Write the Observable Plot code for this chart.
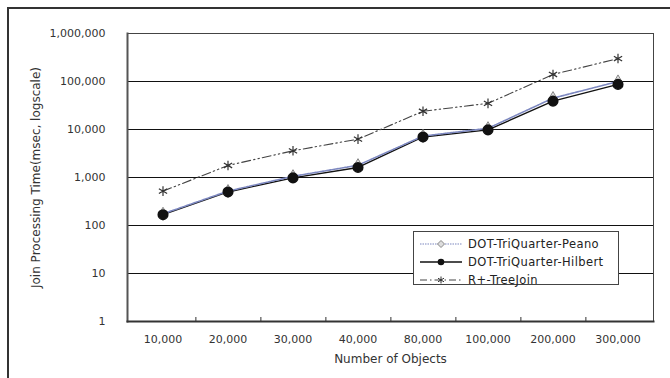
<!DOCTYPE html>
<html>
<head>
<meta charset="utf-8">
<script src="https://cdn.jsdelivr.net/npm/d3@7"></script>
<script src="https://cdn.jsdelivr.net/npm/@observablehq/plot@0.6"></script>
<style>
  html, body { margin: 0; padding: 0; background: #fff; }
  #wrap { position: relative; width: 670px; height: 378px; overflow: hidden; font-family: "DejaVu Sans", sans-serif; }
  #outer { position: absolute; left: 7px; top: 7px; width: 680px; height: 400px; border-top: 2px solid #333; border-left: 2px solid #333; }
  #legend { position: absolute; left: 413px; top: 231px; width: 206px; height: 54px; background: #fff; border: 1px solid #444; font-size: 11.5px; letter-spacing: 0.4px; color: #222; box-sizing: border-box; padding-top: 3px; }
  #legend .row { display: flex; align-items: center; height: 18px; padding-left: 4px; }
  #legend svg { margin-right: 4px; }
</style>
</head>
<body>
<div id="wrap"><div id="outer"></div></div>
<script>
const categories = ["10,000", "20,000", "30,000", "40,000", "80,000", "100,000", "200,000", "300,000"];
const seriesNames = ["DOT-TriQuarter-Peano", "DOT-TriQuarter-Hilbert", "R+-TreeJoin"];
const peano   = [175, 520, 1060, 1800, 7300, 10600, 45000, 100000];
const hilbert = [168, 500, 980, 1620, 7000, 9800, 39000, 87000];
const rtree   = [520, 1780, 3600, 6300, 24000, 35000, 140000, 300000];
const yTicks = [1, 10, 100, 1000, 10000, 100000, 1000000];

const rows = (vals, s) => categories.map((c, i) => ({cat: c, v: vals[i], s}));
const dPeano = rows(peano, seriesNames[0]);
const dHil = rows(hilbert, seriesNames[1]);
const dR = rows(rtree, seriesNames[2]);

const W = 670, H = 378, ML = 127, MR = 17;
const bw = (W - ML - MR) / categories.length;

const chart = Plot.plot({
  width: W, height: H,
  marginLeft: ML, marginRight: MR, marginTop: 33, marginBottom: 57,
  style: {fontFamily: "DejaVu Sans, sans-serif", fontSize: "11px", color: "#222", background: "transparent", overflow: "visible"},
  x: {type: "band", domain: categories, padding: 0},
  y: {type: "log", domain: [1, 1000000]},
  marks: [
    Plot.gridY(yTicks, {stroke: "#111", strokeOpacity: 1, strokeWidth: 1}),
    Plot.axisY(yTicks, {tickFormat: d3.format(","), tickSize: 0, tickPadding: 22, fontSize: 11, fill: "#333", label: null}),
    Plot.axisY(yTicks, {tickSize: 0, text: null, fontSize: 12, fill: "#333", style: {letterSpacing: "0.6px"},
      label: "Join Processing Time(msec, logscale)", labelAnchor: "center", labelArrow: "none", labelOffset: 96}),
    Plot.axisX({tickSize: 0, tickPadding: 14, fontSize: 11, fill: "#333", label: null}),
    Plot.axisX({tickSize: 0, text: null, fontSize: 12, fill: "#333", style: {letterSpacing: "0.5px"},
      label: "Number of Objects", labelAnchor: "center", labelArrow: "none", labelOffset: 41}),
    Plot.axisX(categories.slice(0, -1), {tickSize: -4, text: null, label: null, dx: bw / 2, stroke: "#333"}),
    Plot.frame({stroke: "#444", strokeWidth: 1}),
    Plot.frame({anchor: "left", stroke: "#555", strokeWidth: 2}),
    Plot.frame({anchor: "bottom", stroke: "#333", strokeWidth: 2}),
    // R+ TreeJoin
    Plot.line(dR, {x: "cat", y: "v", stroke: "#444", strokeWidth: 1.1, strokeDasharray: "9,3,1.5,3,1.5,3"}),
    Plot.dot(dR, {x: "cat", y: "v", symbol: "asterisk", r: 4.5, stroke: "#333", strokeWidth: 1.2}),
    // Hilbert
    Plot.line(dHil, {x: "cat", y: "v", stroke: "#111", strokeWidth: 1.4}),
    // Peano
    Plot.line(dPeano, {x: "cat", y: "v", stroke: "#7d88c0", strokeWidth: 1.6, strokeDasharray: "1.5,1"}),
    Plot.dot(dPeano, {x: "cat", y: "v", symbol: "diamond", r: 4, stroke: "#888", fill: "#ddd", strokeWidth: 1}),
    Plot.dot(dHil, {x: "cat", y: "v", r: 4.8, fill: "#111", stroke: "#111"})
  ]
});
chart.style.position = "absolute";
chart.style.left = "0px";
chart.style.top = "0px";
const wrap = document.getElementById("wrap");
wrap.appendChild(chart);

// Legend
const legend = document.createElement("div");
legend.id = "legend";
const sw = [
  `<line x1="2" x2="44" y1="6" y2="6" stroke="#7d88c0" stroke-width="1.2" stroke-dasharray="1.5,1"/><path d="M23,2.5 L26.5,6 L23,9.5 L19.5,6 Z" fill="#ddd" stroke="#888"/>`,
  `<line x1="2" x2="44" y1="6" y2="6" stroke="#111" stroke-width="1.4"/><circle cx="23" cy="6" r="3.3" fill="#111"/>`,
  `<line x1="2" x2="44" y1="6" y2="6" stroke="#444" stroke-width="1" stroke-dasharray="7,3,1.5,3"/><path d="M23,2.5V9.5M20,4.2L26,7.8M20,7.8L26,4.2" stroke="#333" stroke-width="1" fill="none"/>`
];
seriesNames.forEach((name, i) => {
  const r = document.createElement("div");
  r.className = "row";
  r.innerHTML = `<svg width="46" height="12">${sw[i]}</svg><span>${name}</span>`;
  legend.appendChild(r);
});
wrap.appendChild(legend);
</script>
</body>
</html>
